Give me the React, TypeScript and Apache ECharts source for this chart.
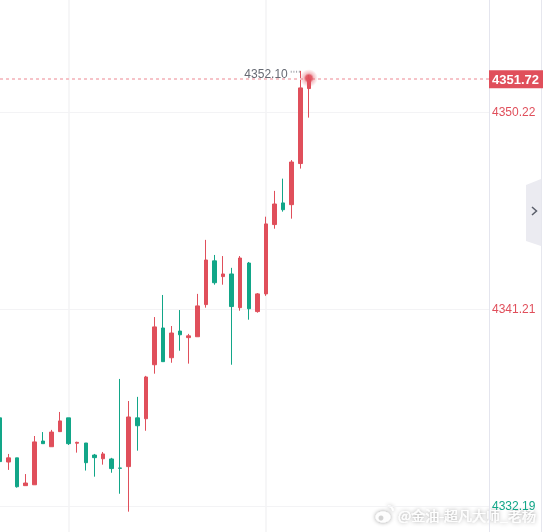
import React, { useEffect, useRef } from "react";
import * as echarts from "echarts";

const times = [
  "10:00", "10:01", "10:02", "10:03", "10:04", "10:05", "10:06", "10:07", "10:08", "10:09",
  "10:10", "10:11", "10:12", "10:13", "10:14", "10:15", "10:16", "10:17", "10:18", "10:19",
  "10:20", "10:21", "10:22", "10:23", "10:24", "10:25", "10:26", "10:27", "10:28", "10:29",
  "10:30", "10:31", "10:32", "10:33", "10:34", "10:35", "10:36",
];
const opens = [
  4336.23, 4334.21, 4334.40, 4333.13, 4333.17, 4335.17, 4334.91, 4335.60, 4336.23, 4335.07,
  4335.08, 4334.53, 4334.36, 4334.35, 4333.94, 4334.00, 4336.23, 4336.19, 4338.66, 4340.34,
  4338.98, 4340.20, 4339.90, 4339.94, 4341.41, 4343.41, 4342.69, 4342.81, 4341.27, 4343.31,
  4341.09, 4341.90, 4345.07, 4346.06, 4345.98, 4347.86, 4351.29,
];
const closes = [
  4334.23, 4334.40, 4333.08, 4333.25, 4335.13, 4335.05, 4335.58, 4336.09, 4335.05, 4335.11,
  4334.18, 4334.41, 4334.58, 4333.91, 4333.92, 4336.27, 4335.87, 4338.10, 4340.39, 4338.80,
  4340.11, 4340.03, 4339.98, 4341.35, 4343.45, 4342.41, 4342.81, 4341.32, 4343.54, 4341.22,
  4341.90, 4345.10, 4346.01, 4345.75, 4347.93, 4351.32, 4351.72,
];
const lows = [
  4334.19, 4333.85, 4333.04, 4333.13, 4333.17, 4335.05, 4334.91, 4335.60, 4334.99, 4334.64,
  4333.82, 4333.54, 4334.09, 4333.72, 4332.76, 4331.94, 4334.73, 4335.64, 4338.25, 4338.80,
  4338.75, 4339.30, 4338.71, 4339.94, 4341.27, 4342.32, 4342.32, 4338.66, 4341.13, 4340.72,
  4341.04, 4341.81, 4344.88, 4345.66, 4345.34, 4347.63, 4349.96,
];
const highs = [
  4336.24, 4334.58, 4334.40, 4333.66, 4335.40, 4335.58, 4335.68, 4336.50, 4336.23, 4335.14,
  4335.08, 4334.58, 4334.67, 4334.40, 4338.01, 4337.00, 4337.19, 4338.15, 4340.84, 4341.85,
  4340.43, 4341.16, 4340.07, 4341.90, 4344.37, 4343.68, 4343.63, 4343.09, 4343.63, 4343.36,
  4341.94, 4345.43, 4346.61, 4347.17, 4348.02, 4352.10, 4351.91,
];
const tickValues = [4350.22, 4341.21, 4332.19];
const lastPrice = 4351.72;
const highestPrice = 4352.10;
const gridTimes = ["10:08", "10:31"];
const watermark = "@金油-超凡大师_老杨";

const RED = "#e04f5b";
const GREEN = "#12a688";

export default function App() {
  const ref = useRef<HTMLDivElement>(null);
  useEffect(() => {
    if (!ref.current) return;
    const chart = echarts.init(ref.current, undefined, { renderer: "svg" });
    const emptySlots = new Array(21).fill("");
    const categories = times.concat(emptySlots);
    const kdata = times.map((_, i) => [opens[i], closes[i], lows[i], highs[i]]);
    const hiIdx = highs.indexOf(highestPrice);
    const lastIdx = times.length - 1;
    const wmShadow = {
      shadowColor: "rgba(0,0,0,0.45)",
      shadowBlur: 4,
    };
    chart.setOption({
      animation: false,
      textStyle: { fontFamily: "Arial, 'Liberation Sans', sans-serif" },
      grid: { left: 0, right: 54, top: 0, bottom: 0 },
      xAxis: {
        type: "category",
        data: categories,
        boundaryGap: false,
        axisLine: { show: false },
        axisTick: { show: false },
        axisLabel: { show: false },
        splitLine: {
          show: true,
          interval: (i: number, v: string) => gridTimes.includes(v),
          lineStyle: { color: "#f3f3f5", width: 1.5 },
        },
      },
      yAxis: {
        type: "value",
        position: "right",
        min: 4331.01,
        max: 4355.34,
        scale: true,
        axisLine: { show: true, lineStyle: { color: "#e4e5ee" } },
        axisTick: { show: false, customValues: tickValues },
        axisLabel: {
          customValues: tickValues,
          formatter: (v: number) => v.toFixed(2),
          color: (v: number) => (v < 4335 ? GREEN : RED),
          fontSize: 12,
          margin: 3,
          align: "left",
          padding: [6, 0, 0, 0],
        },
        splitLine: { show: true, lineStyle: { color: "#f3f3f5" } },
      },
      series: [
        {
          type: "candlestick",
          data: kdata,
          barWidth: 4,
          itemStyle: {
            color: RED,
            color0: GREEN,
            borderColor: RED,
            borderColor0: GREEN,
            borderWidth: 1,
          },
          markLine: {
            silent: true,
            symbol: ["none", "none"],
            lineStyle: { color: "#f6c3c8", type: [3, 3], width: 2 },
            label: {
              show: true,
              position: "end",
              distance: 0,
              formatter: lastPrice.toFixed(2),
              color: "#fff",
              fontWeight: "bold",
              fontSize: 13,
              backgroundColor: RED,
              padding: [3, 6, 2, 3],
              lineHeight: 13,
            },
            data: [{ yAxis: lastPrice }],
          },
          markPoint: {
            silent: true,
            data: [
              {
                coord: [times[hiIdx], highestPrice],
                symbol: "path://M0,0h1v2h-1z M3,0h1v2h-1z M6,0h1v2h-1z M9,0h1v2h-1z",
                symbolSize: [9, 2],
                symbolKeepAspect: false,
                symbolOffset: [-5, 1],
                itemStyle: { color: "#9a9aa2" },
                label: {
                  show: true,
                  position: "left",
                  distance: 3,
                  offset: [0, 2],
                  formatter: highestPrice.toFixed(2),
                  color: "#666a73",
                  fontSize: 12,
                },
              },
              {
                coord: [times[lastIdx], lastPrice],
                symbol: "circle",
                symbolSize: 18,
                symbolOffset: [0, -1],
                itemStyle: {
                  color: new echarts.graphic.RadialGradient(0.5, 0.5, 0.5, [
                    { offset: 0, color: "rgba(224,79,91,1)" },
                    { offset: 0.35, color: "rgba(224,79,91,0.9)" },
                    { offset: 0.55, color: "rgba(224,79,91,0.35)" },
                    { offset: 1, color: "rgba(224,79,91,0)" },
                  ]),
                },
                label: { show: false },
              },
            ],
          },
        },
      ],
      graphic: [
        {
          type: "line",
          shape: { x1: 541.5, y1: 0, x2: 541.5, y2: 532 },
          style: { stroke: "#e6e7ee", lineWidth: 1 },
          silent: true,
        },
        {
          type: "polygon",
          shape: { points: [[526, 185], [541, 179], [541, 246], [526, 241]] },
          style: { fill: "#ebebf1" },
          silent: true,
        },
        {
          type: "polyline",
          shape: { points: [[532, 207], [536.5, 211], [532, 215]] },
          style: { stroke: "#5a5e6a", lineWidth: 1.5, fill: "none" },
          silent: true,
        },
        {
          type: "ellipse",
          shape: { cx: 383, cy: 517, rx: 7.5, ry: 5.5 },
          style: { fill: "rgba(255,255,255,0.95)", ...wmShadow },
          silent: true,
        },
        {
          type: "circle",
          shape: { cx: 381, cy: 518, r: 2.5 },
          style: { fill: "rgba(200,200,200,0.8)" },
          silent: true,
        },
        {
          type: "arc",
          shape: { cx: 388, cy: 511, r: 5, startAngle: -Math.PI / 2, endAngle: 0 },
          style: { stroke: "rgba(255,255,255,0.95)", lineWidth: 1.6, fill: "none", ...wmShadow },
          silent: true,
        },
        {
          type: "text",
          x: 398,
          y: 515,
          style: {
            text: watermark,
            font: "14px 'Noto Sans CJK SC', sans-serif",
            fill: "rgba(255,255,255,0.95)",
            textVerticalAlign: "middle",
            textShadowColor: "rgba(0,0,0,0.45)",
            textShadowBlur: 4,
          },
          silent: true,
        },
      ],
    });
    return () => chart.dispose();
  }, []);
  return (
    <div
      ref={ref}
      style={{ position: "fixed", left: 0, top: 0, width: 543, height: 532 }}
    />
  );
}
